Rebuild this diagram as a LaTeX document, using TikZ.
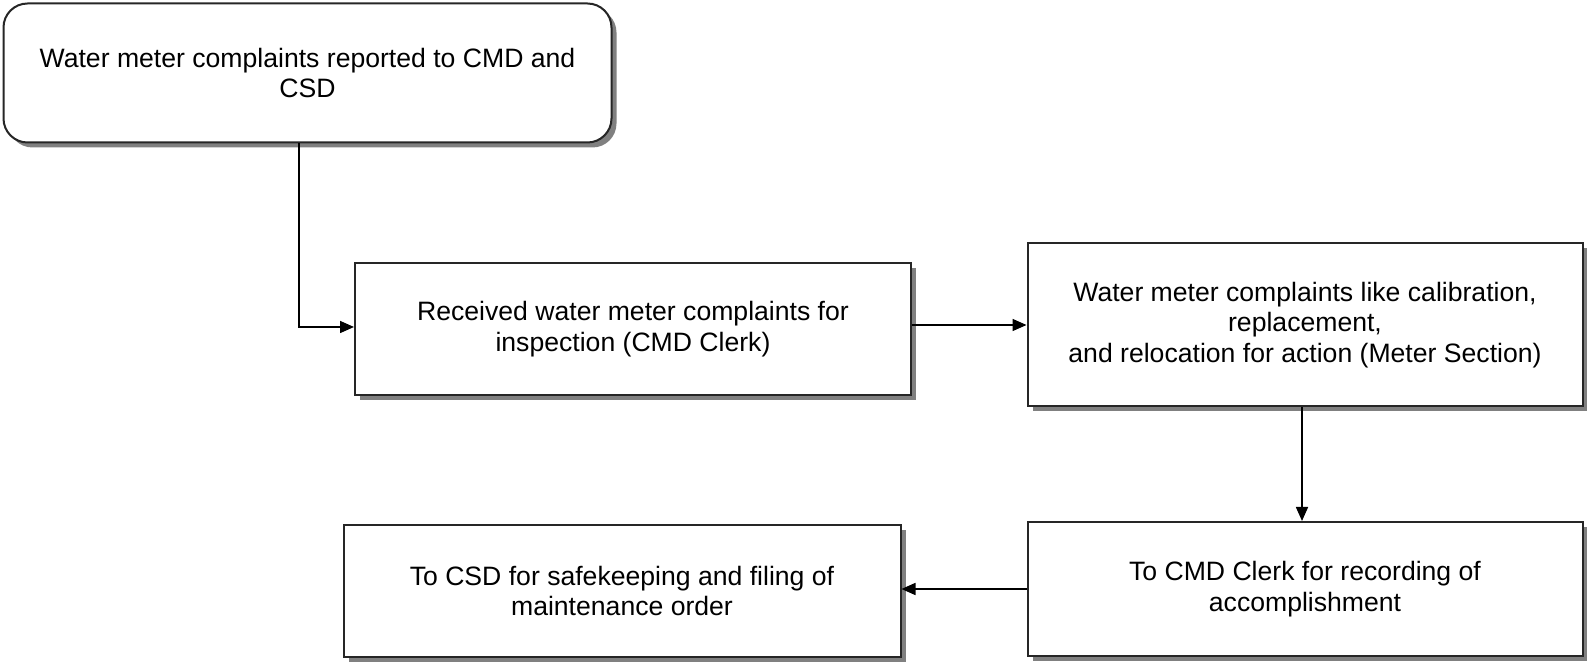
\documentclass[tikz,border=0pt]{standalone}
\usepackage{fontspec}
\setmainfont{Liberation Sans}
\usetikzlibrary{arrows.meta,shadows}

\begin{document}
\begin{tikzpicture}[x=0.5pt,y=-0.5pt,
		stepbox/.style={rectangle,draw=black!85,line width=1pt,fill=white,align=center,
			font=\fontsize{13.3pt}{15.2pt}\selectfont,inner sep=0pt,
			drop shadow={shadow xshift=2.5pt,shadow yshift=-2.5pt,fill=black!50,opacity=1}},
		startbox/.style={stepbox,rounded corners=12pt},
		flow/.style={draw=black,line width=0.8pt,-{Triangle[length=7pt,width=6pt]}}
		]
		\useasboundingbox (0,0) rectangle (1587,662);
		\node (b1) [startbox,minimum width=608pt*0.5,minimum height=139pt*0.5] at (307.5,73) {Water meter complaints reported to CMD and\\CSD};
		\node (b2) [stepbox,minimum width=556pt*0.5,minimum height=132pt*0.5] at (633,329) {Received water meter complaints for\\inspection (CMD Clerk)};
		\node (b3) [stepbox,minimum width=555pt*0.5,minimum height=163pt*0.5] at (1305,325) {Water meter complaints like calibration,\\replacement,\\and relocation for action (Meter Section)};
		\node (b4) [stepbox,minimum width=555pt*0.5,minimum height=134pt*0.5] at (1305,589) {To CMD Clerk for recording of\\accomplishment};
		\node (b5) [stepbox,minimum width=557pt*0.5,minimum height=132pt*0.5] at (622,591) {To CSD for safekeeping and filing of\\maintenance order};
		\coordinate (turn) at (299,327);
		\draw [flow] (b1.south -| turn) -- (turn) -- (turn -| b2.west);
		\draw [flow] (b2.east |- 0,325) -- (b3.west |- 0,325);
		\draw [flow] (b3.south -| 1302,0) -- (b4.north -| 1302,0);
		\draw [flow] (b4.west) -- (b4.west -| b5.east);
\end{tikzpicture}
\end{document}
